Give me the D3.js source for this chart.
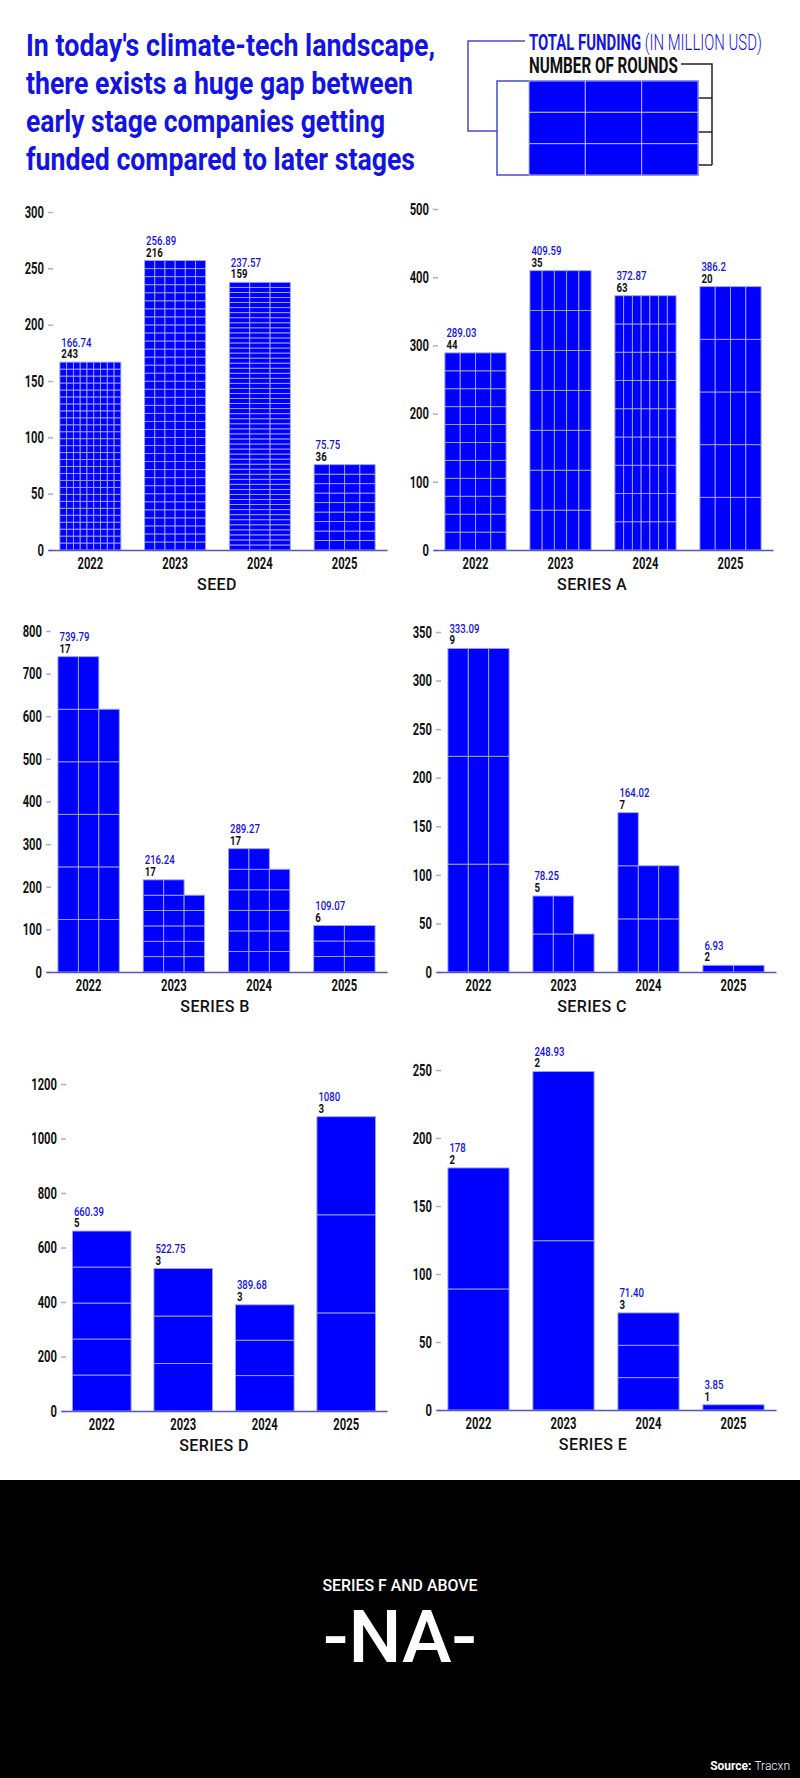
<!DOCTYPE html>
<html>
<head>
<meta charset="utf-8">
<script src="https://cdn.jsdelivr.net/npm/d3@7"></script>
<style>
  body { margin: 0; background: #fff; }
  svg { display: block; }
</style>
</head>
<body>
<div id="chart"></div>
<script>

// ---- data ----
const years = ["2022", "2023", "2024", "2025"]

const seedFunding = ["166.74", "256.89", "237.57", "75.75"]
const seedRounds = [243, 216, 159, 36]
const seedCols = [9, 6, 3, 4]
const seedTicks = [0, 50, 100, 150, 200, 250, 300]

const seriesAFunding = ["289.03", "409.59", "372.87", "386.2"]
const seriesARounds = [44, 35, 63, 20]
const seriesACols = [4, 5, 7, 4]
const seriesATicks = [0, 100, 200, 300, 400, 500]

const seriesBFunding = ["739.79", "216.24", "289.27", "109.07"]
const seriesBRounds = [17, 17, 17, 6]
const seriesBCols = [3, 3, 3, 2]
const seriesBTicks = [0, 100, 200, 300, 400, 500, 600, 700, 800]

const seriesCFunding = ["333.09", "78.25", "164.02", "6.93"]
const seriesCRounds = [9, 5, 7, 2]
const seriesCCols = [3, 3, 3, 2]
const seriesCTicks = [0, 50, 100, 150, 200, 250, 300, 350]

const seriesDFunding = ["660.39", "522.75", "389.68", "1080"]
const seriesDRounds = [5, 3, 3, 3]
const seriesDCols = [1, 1, 1, 1]
const seriesDTicks = [0, 200, 400, 600, 800, 1000, 1200]

const seriesEFunding = ["178", "248.93", "71.40", "3.85"]
const seriesERounds = [2, 2, 3, 1]
const seriesECols = [1, 1, 1, 1]
const seriesETicks = [0, 50, 100, 150, 200, 250]

const titleLines = [
    "In today's climate-tech landscape,",
    "there exists a huge gap between",
    "early stage companies getting",
    "funded compared to later stages"
]

// ---- page parameters ----
const WIDTH = 800
const HEIGHT = 1778
const BLUE = "#0000ff"
const TEXT_BLUE = "#1414e0"
const FONT = "Roboto, 'Liberation Sans', sans-serif"

const svg = d3.select("#chart").append("svg")
    .attr("width", WIDTH)
    .attr("height", HEIGHT)

// squeeze text horizontally so that Roboto reads like a condensed face
function condense(sel, k) {
    sel.each(function() {
        const w = this.getComputedTextLength()
        d3.select(this).attr("textLength", w * k).attr("lengthAdjust", "spacingAndGlyphs")
    })
}
function fitWidth(sel, w) {
    sel.attr("textLength", w).attr("lengthAdjust", "spacingAndGlyphs")
}
// same idea with a transform, for texts made of several tspans
function scaleToWidth(sel, x, y, w) {
    const natural = sel.node().getComputedTextLength()
    sel.attr("transform", "translate(" + x + "," + y + ") scale(" + (w / natural) + ",1)")
}

// ---- headline ----
const titleWidths = [409, 387, 359, 389]
svg.append("g").selectAll("text")
    .data(titleLines)
    .enter()
    .append("text")
    .attr("x", 26)
    .attr("y", (d, i) => 56 + i * 38)
    .attr("font-family", FONT)
    .attr("font-weight", 700)
    .attr("font-size", 32)
    .attr("fill", TEXT_BLUE)
    .text(d => d)
    .each(function(d, i) { fitWidth(d3.select(this), titleWidths[i]) })

// ---- legend ----
const legend = svg.append("g")
legend.append("polyline")
    .attr("points", "525,41 468,41 468,131 497,131")
    .attr("fill", "none").attr("stroke", "#4848d0").attr("stroke-width", 1.5)
legend.append("polyline")
    .attr("points", "681,64 712,64 712,165")
    .attr("fill", "none").attr("stroke", "#222").attr("stroke-width", 1.5)
;[98, 132, 165].forEach(y => legend.append("line")
    .attr("x1", 698).attr("x2", 712).attr("y1", y).attr("y2", y)
    .attr("stroke", "#222").attr("stroke-width", 1.5))
legend.append("rect")
    .attr("x", 497).attr("y", 81).attr("width", 201).attr("height", 94)
    .attr("fill", "#fff").attr("stroke", "#4848d0").attr("stroke-width", 1.5)
const lgX = d3.scaleBand().domain([0, 1, 2]).range([529, 698])
const lgY = d3.scaleBand().domain([0, 1, 2]).range([81, 175])
legend.selectAll("rect.cell")
    .data(d3.cross([0, 1, 2], [0, 1, 2]))
    .enter()
    .append("rect")
    .attr("class", "cell")
    .attr("x", d => lgX(d[0]))
    .attr("y", d => lgY(d[1]))
    .attr("width", lgX.bandwidth())
    .attr("height", lgY.bandwidth())
    .attr("fill", BLUE)
    .attr("stroke", "#b4b4ff")
    .attr("stroke-width", 1)

const fundingKey = legend.append("text")
    .attr("font-family", FONT).attr("font-size", 22)
    .attr("fill", TEXT_BLUE)
fundingKey.append("tspan").attr("font-weight", 700).text("TOTAL FUNDING ")
fundingKey.append("tspan").attr("font-weight", 300).text("(IN MILLION USD)")
fundingKey.call(scaleToWidth, 529, 50, 233)

const roundsKey = legend.append("text")
    .attr("font-family", FONT).attr("font-weight", 700).attr("font-size", 22)
    .attr("fill", "#111").text("NUMBER OF ROUNDS")
roundsKey.call(scaleToWidth, 529, 73, 149)

// ---- one panel per funding stage ----
function drawPanel(opts) {
    const { name, funding, rounds, cols, ticks, x0, x1, y0, yTop, titleX } = opts
    const values = funding.map(Number)
    const g = svg.append("g")

    const x = d3.scaleBand()
        .domain(years)
        .range([x0, x1])
        .paddingInner(0.28)
        .paddingOuter(0.14)

    const y = d3.scaleLinear()
        .domain([0, ticks[ticks.length - 1]])
        .range([y0, yTop])

    // y axis: short lavender dashes, no domain line
    const yAxis = g.append("g")
        .attr("transform", "translate(" + (x0 + 5) + ",0)")
        .call(d3.axisLeft(y).tickValues(ticks).tickFormat(d3.format("d")).tickSize(5).tickPadding(4))
    yAxis.select(".domain").remove()
    yAxis.selectAll(".tick line").attr("stroke", "#a9a9ec").attr("stroke-width", 1.5)
    yAxis.selectAll(".tick text")
        .attr("font-family", FONT).attr("font-weight", 700).attr("font-size", 16.5)
        .attr("fill", "#111")
        .call(condense, 0.68)

    // cells: one per round, filled row by row from the bottom
    const cells = []
    years.forEach((yr, j) => {
        const n = rounds[j], c = cols[j]
        const rows = Math.ceil(n / c)
        const h = values[j] / rows
        for (let i = 0; i < n; i++) {
            cells.push({ year: yr, col: i % c, row: Math.floor(i / c), c: c, h: h })
        }
    })
    g.append("g").selectAll("rect")
        .data(cells)
        .enter()
        .append("rect")
        .attr("x", d => x(d.year) + d.col * x.bandwidth() / d.c)
        .attr("y", d => y(d.h * (d.row + 1)))
        .attr("width", d => x.bandwidth() / d.c)
        .attr("height", d => y(d.h * d.row) - y(d.h * (d.row + 1)))
        .attr("fill", BLUE)
        .attr("stroke", "#a4a4ff")
        .attr("stroke-width", 0.9)

    // x axis
    const xAxis = g.append("g")
        .attr("transform", "translate(0," + y0 + ")")
        .call(d3.axisBottom(x).tickSize(0).tickSizeOuter(0).tickPadding(7))
    xAxis.select(".domain").attr("stroke", "#5454c8").attr("stroke-width", 1.6)
    xAxis.selectAll(".tick text")
        .attr("font-family", FONT).attr("font-weight", 700).attr("font-size", 16.5)
        .attr("fill", "#111")
        .call(condense, 0.68)

    // value labels
    g.append("g").selectAll("text")
        .data(years)
        .enter()
        .append("text")
        .attr("x", d => x(d) + 1.5)
        .attr("y", (d, i) => y(values[i]) - 15.5)
        .attr("font-family", FONT).attr("font-weight", 500).attr("font-size", 13)
        .attr("fill", TEXT_BLUE)
        .text((d, i) => funding[i])
        .call(condense, 0.74)
    g.append("g").selectAll("text")
        .data(years)
        .enter()
        .append("text")
        .attr("x", d => x(d) + 1.5)
        .attr("y", (d, i) => y(values[i]) - 4)
        .attr("font-family", FONT).attr("font-weight", 700).attr("font-size", 13)
        .attr("fill", "#111")
        .text((d, i) => rounds[i])
        .call(condense, 0.74)

    // stage name
    g.append("text")
        .attr("x", titleX)
        .attr("y", y0 + 40)
        .attr("text-anchor", "middle")
        .attr("font-family", FONT).attr("font-weight", 500).attr("font-size", 16)
        .attr("letter-spacing", 0.4)
        .attr("fill", "#111")
        .text(name)
}

drawPanel({ name: "SEED", funding: seedFunding, rounds: seedRounds, cols: seedCols, ticks: seedTicks,
    x0: 48, x1: 387, y0: 550, yTop: 212, titleX: 217 })
drawPanel({ name: "SERIES A", funding: seriesAFunding, rounds: seriesARounds, cols: seriesACols, ticks: seriesATicks,
    x0: 433, x1: 773, y0: 550, yTop: 209, titleX: 592 })
drawPanel({ name: "SERIES B", funding: seriesBFunding, rounds: seriesBRounds, cols: seriesBCols, ticks: seriesBTicks,
    x0: 46, x1: 387, y0: 972, yTop: 631, titleX: 215 })
drawPanel({ name: "SERIES C", funding: seriesCFunding, rounds: seriesCRounds, cols: seriesCCols, ticks: seriesCTicks,
    x0: 436, x1: 776, y0: 972, yTop: 632, titleX: 592 })
drawPanel({ name: "SERIES D", funding: seriesDFunding, rounds: seriesDRounds, cols: seriesDCols, ticks: seriesDTicks,
    x0: 61, x1: 387, y0: 1411, yTop: 1084, titleX: 214 })
drawPanel({ name: "SERIES E", funding: seriesEFunding, rounds: seriesERounds, cols: seriesECols, ticks: seriesETicks,
    x0: 436, x1: 776, y0: 1410, yTop: 1070, titleX: 593 })

// ---- footer ----
const foot = svg.append("g")
foot.append("rect")
    .attr("x", 0).attr("y", 1480).attr("width", WIDTH).attr("height", HEIGHT - 1480)
    .attr("fill", "#000")
foot.append("text")
    .attr("x", 400).attr("y", 1591)
    .attr("text-anchor", "middle")
    .attr("font-family", FONT).attr("font-weight", 500).attr("font-size", 16)
    .attr("fill", "#fff")
    .text("SERIES F AND ABOVE")
    .call(fitWidth, 155)
foot.append("text")
    .attr("x", 400).attr("y", 1662)
    .attr("text-anchor", "middle")
    .attr("font-family", FONT).attr("font-weight", 500).attr("font-size", 72)
    .attr("fill", "#fff")
    .text("-NA-")
    .call(fitWidth, 154)
const src = foot.append("text")
    .attr("x", 790).attr("y", 1770)
    .attr("text-anchor", "end")
    .attr("font-family", FONT).attr("font-size", 12)
    .attr("fill", "#fff")
src.append("tspan").attr("font-weight", 700).text("Source: ")
src.append("tspan").attr("font-weight", 300).text("Tracxn")

</script>
</body>
</html>
